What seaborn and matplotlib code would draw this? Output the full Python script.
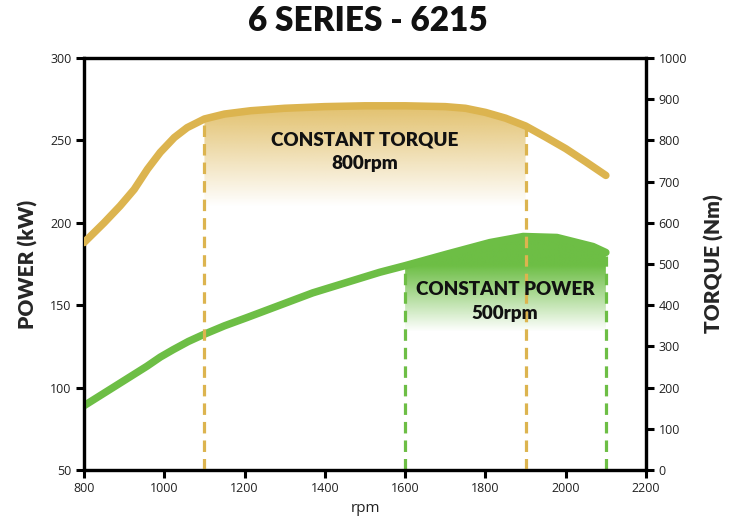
import numpy as np
import pandas as pd
import matplotlib
matplotlib.use("Agg")
import matplotlib.pyplot as plt
import seaborn as sns
from matplotlib.colors import to_rgb

# ---- data ----
torque_rpm = [800, 850, 890, 925, 958, 990, 1025, 1057, 1100, 1150, 1215, 1300,
              1400, 1500, 1600, 1700, 1750, 1800, 1850, 1900, 1950, 2000, 2050, 2100]
torque_nm = [552, 600, 641, 681, 730, 771, 807, 831, 852, 864, 872, 878,
             882, 884, 884, 882, 878, 868, 854, 835, 808, 780, 748, 715]

power_rpm = [800, 872, 957, 990, 1022, 1060, 1096, 1150, 1206, 1370, 1537, 1600,
             1704, 1811, 1894, 1978, 2068, 2100]
power_kw = [89, 100, 113, 118.5, 123, 128, 132, 137.5, 142.5, 157.5, 170, 174,
            181, 188, 191.7, 191.1, 185.6, 182]

torque_band = [1100, 1900]   # constant torque range
power_band = [1600, 2100]    # constant power range
torque_text = "CONSTANT TORQUE\n800rpm"
power_text = "CONSTANT POWER\n500rpm"
title = "6 SERIES - 6215"

x_ticks = [800, 1000, 1200, 1400, 1600, 1800, 2000, 2200]
left_ticks = [50, 100, 150, 200, 250, 300]
right_ticks = [0, 100, 200, 300, 400, 500, 600, 700, 800, 900, 1000]

GOLD = "#DCB44F"
GREEN = "#6DBE45"

sns.set_style("white")
plt.rcParams["font.family"] = ["Open Sans", "DejaVu Sans"]

tq = pd.DataFrame({"rpm": torque_rpm, "torque": torque_nm})
pw = pd.DataFrame({"rpm": power_rpm, "power": power_kw})

fig = plt.figure(figsize=(7.36, 5.2), dpi=100)
ax = fig.add_axes([84 / 736, 1 - 470 / 520, (646 - 84) / 736, (470 - 58) / 520])
ax2 = ax.twinx()
ax.set_zorder(1)
ax2.set_zorder(2)
ax.patch.set_visible(True)
ax2.patch.set_visible(False)

ax.set_xlim(800, 2200)
ax.set_ylim(50, 300)
ax2.set_ylim(0, 1000)


def gradient_fill(axis, xs, ys, x0, x1, ybot, color, stops):
    xs = np.asarray(xs, float)
    ys = np.asarray(ys, float)
    m = (xs >= x0) & (xs <= x1)
    poly = axis.fill_between(xs[m], ys[m], ybot, color="none", lw=0)
    ytop = ys[m].max() + 5
    n = 256
    yy = np.linspace(ybot, ytop, n)
    sy, sa = zip(*stops)
    alpha = np.interp(yy, sy, sa)
    rgb = to_rgb(color)
    img = np.zeros((n, 2, 4))
    img[..., 0] = rgb[0]
    img[..., 1] = rgb[1]
    img[..., 2] = rgb[2]
    img[..., 3] = alpha[:, None]
    im = axis.imshow(img, extent=[x0, x1, ybot, ytop], origin="lower",
                     aspect="auto", zorder=1, interpolation="bilinear")
    im.set_clip_path(poly.get_paths()[0], transform=axis.transData)


# green (power) on main axis
gradient_fill(ax, power_rpm, power_kw, power_band[0], power_band[1], 50, GREEN,
              [(50, 0.0), (134, 0.0), (174, 1.0), (300, 1.0)])
sns.lineplot(data=pw, x="rpm", y="power", ax=ax, color=GREEN, lw=5.4,
             solid_capstyle="round", solid_joinstyle="round", zorder=3)
for xv in power_band:
    yv = np.interp(xv, power_rpm, power_kw)
    ax.plot([xv, xv], [50, yv - 2], color=GREEN, lw=2.3, ls=(0, (3.6, 2.2)),
            zorder=2)

# gold (torque) on twin axis
gradient_fill(ax2, torque_rpm, torque_nm, torque_band[0], torque_band[1], 0, GOLD,
              [(0, 0.0), (640, 0.0), (890, 0.85), (1000, 0.85)])
sns.lineplot(data=tq, x="rpm", y="torque", ax=ax2, color=GOLD, lw=5.4,
             solid_capstyle="round", solid_joinstyle="round", zorder=3)
for xv in torque_band:
    yv = np.interp(xv, torque_rpm, torque_nm)
    ax2.plot([xv, xv], [0, yv - 5], color=GOLD, lw=2.3, ls=(0, (3.6, 2.2)),
             zorder=2)

ax.set_xlim(800, 2200)
ax.set_ylim(50, 300)
ax2.set_ylim(0, 1000)
ax2.set_xlim(800, 2200)

# annotations
ax2.text(1500, 772, torque_text, ha="center", va="center", fontsize=13.6,
         fontweight="heavy", family=["Lato", "DejaVu Sans"], linespacing=1.5,
         color="#111111", zorder=5)
ax2.text(1849, 410, power_text, ha="center", va="center", fontsize=13.6,
         fontweight="heavy", family=["Lato", "DejaVu Sans"], linespacing=1.5,
         color="#111111", zorder=5)

# axes styling
ax.set_xticks(x_ticks)
ax.set_yticks(left_ticks)
ax2.set_yticks(right_ticks)
for a in (ax, ax2):
    for s in a.spines.values():
        s.set_linewidth(2.3)
        s.set_color("black")
    a.tick_params(axis="both", direction="out", length=6, width=2.2,
                  color="black", labelsize=9, labelcolor="#222222", pad=3)
ax.tick_params(axis="y", left=True, right=False)
ax.tick_params(axis="x", bottom=True)
ax2.tick_params(axis="y", right=True, left=False)

ax.set_xlabel("rpm", fontsize=11, color="#222222", labelpad=4)
ax.set_ylabel("POWER (kW)", fontsize=15, fontweight="heavy",
              family=["Lato", "DejaVu Sans"], labelpad=9)
ax2.set_ylabel("TORQUE (Nm)", fontsize=15, fontweight="heavy", rotation=90,
               family=["Lato", "DejaVu Sans"], labelpad=12)
ax2.yaxis.set_label_position("right")

fig.text(368 / 736, 1 - 21 / 520, title, ha="center", va="center",
         fontsize=24, fontweight="heavy", family=["Lato", "DejaVu Sans"],
         color="#111111")

fig.savefig("out.png", dpi=100)
